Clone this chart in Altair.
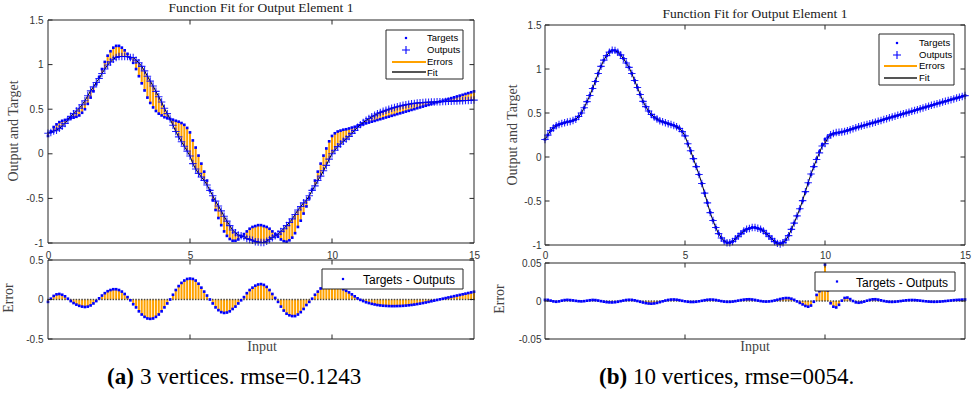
import altair as alt
import pandas as pd

# ---------------- data ----------------
INPUT = [round(0.1 * i, 1) for i in range(151)]

TARGETS = [
    0.20, 0.25, 0.30, 0.33, 0.355, 0.37, 0.38, 0.39, 0.40, 0.405,
    0.415, 0.43, 0.46, 0.50, 0.56, 0.63, 0.70, 0.78, 0.86, 0.95,
    1.03, 1.10, 1.15, 1.19, 1.21, 1.21, 1.19, 1.16, 1.12, 1.07,
    1.02, 0.95, 0.87, 0.79, 0.71, 0.63, 0.57, 0.52, 0.48, 0.45,
    0.43, 0.41, 0.40, 0.39, 0.38, 0.37, 0.36, 0.345, 0.325, 0.29,
    0.24, 0.15, 0.07, -0.02, -0.11, -0.20, -0.30, -0.41, -0.52, -0.63,
    -0.72, -0.80, -0.87, -0.92, -0.955, -0.975, -0.975, -0.96, -0.93, -0.90,
    -0.87, -0.84, -0.82, -0.81, -0.80, -0.80, -0.81, -0.82, -0.84, -0.87,
    -0.90, -0.93, -0.96, -0.98, -0.985, -0.97, -0.94, -0.89, -0.82, -0.75,
    -0.67, -0.59, -0.50, -0.40, -0.30, -0.20, -0.11, -0.02, 0.06, 0.14,
    0.20, 0.23, 0.25, 0.26, 0.27, 0.275, 0.284, 0.294, 0.303, 0.313,
    0.322, 0.331, 0.341, 0.350, 0.360, 0.369, 0.379, 0.388, 0.397, 0.407,
    0.416, 0.426, 0.435, 0.445, 0.454, 0.463, 0.473, 0.482, 0.492, 0.501,
    0.511, 0.520, 0.529, 0.539, 0.548, 0.558, 0.567, 0.577, 0.586, 0.595,
    0.605, 0.614, 0.624, 0.633, 0.643, 0.652, 0.661, 0.671, 0.680, 0.690,
    0.700,
]

# Targets - Outputs, 3 vertices
ERRORS_A = [
    -0.03, 0.01, 0.045, 0.065, 0.07, 0.06, 0.04, 0.01, -0.02, -0.045,
    -0.065, -0.08, -0.09, -0.095, -0.09, -0.075, -0.05, -0.02, 0.015, 0.05,
    0.08, 0.105, 0.12, 0.13, 0.13, 0.12, 0.10, 0.07, 0.03, -0.01,
    -0.06, -0.10, -0.15, -0.19, -0.22, -0.24, -0.245, -0.24, -0.22, -0.19,
    -0.15, -0.10, -0.05, 0.00, 0.06, 0.12, 0.17, 0.21, 0.24, 0.26,
    0.265, 0.26, 0.24, 0.20, 0.15, 0.10, 0.05, 0.00, -0.05, -0.10,
    -0.135, -0.16, -0.17, -0.165, -0.15, -0.12, -0.09, -0.05, -0.01, 0.03,
    0.08, 0.12, 0.15, 0.175, 0.19, 0.195, 0.185, 0.16, 0.12, 0.07,
    0.02, -0.03, -0.09, -0.14, -0.18, -0.20, -0.21, -0.21, -0.19, -0.16,
    -0.12, -0.07, -0.03, 0.01, 0.06, 0.10, 0.14, 0.17, 0.19, 0.20,
    0.20, 0.19, 0.17, 0.15, 0.13, 0.11, 0.09, 0.065, 0.04, 0.015,
    -0.005, -0.02, -0.035, -0.045, -0.055, -0.063, -0.07, -0.075, -0.079, -0.081,
    -0.083, -0.084, -0.084, -0.083, -0.082, -0.080, -0.077, -0.073, -0.069, -0.064,
    -0.058, -0.052, -0.045, -0.038, -0.030, -0.022, -0.014, -0.006, 0.002, 0.010,
    0.018, 0.026, 0.034, 0.042, 0.050, 0.058, 0.066, 0.074, 0.082, 0.090,
    0.098,
]

# Targets - Outputs, 10 vertices
ERRORS_B = [
    0.0015, 0.0015, 0.0005, -0.0005, -0.0010, -0.0005, 0.0005, 0.0012, 0.0015, 0.0012,
    0.0008, 0.0002, -0.0003, -0.0005, -0.0002, 0.0004, 0.0010, 0.0014, 0.0012, 0.0006,
    -0.0002, -0.0009, -0.0015, -0.0018, -0.0019, -0.0016, -0.0010, -0.0002, 0.0006, 0.0013,
    0.0016, 0.0015, 0.0009, 0.0000, -0.0010, -0.0020, -0.0028, -0.0033, -0.0035, -0.0032,
    -0.0025, -0.0015, -0.0004, 0.0006, 0.0014, 0.0019, 0.0020, 0.0017, 0.0011, 0.0003,
    -0.0004, -0.0010, -0.0013, -0.0013, -0.0010, -0.0004, 0.0003, 0.0010, 0.0016, 0.0019,
    0.0018, 0.0013, 0.0006, -0.0002, -0.0008, -0.0011, -0.0011, -0.0008, -0.0002, 0.0005,
    0.0012, 0.0018, 0.0022, 0.0023, 0.0020, 0.0014, 0.0006, -0.0001, -0.0006, -0.0008,
    -0.0006, -0.0001, 0.0007, 0.0016, 0.0026, 0.0034, 0.0039, 0.0038, 0.0030, 0.0015,
    -0.0005, -0.0025, -0.0045, -0.0065, -0.0075, -0.0060, -0.0010, 0.0080, 0.0130, 0.0150,
    0.0480, 0.0140, -0.0030, -0.0075, -0.0085, -0.0050, 0.0005, 0.0040, 0.0045, 0.0025,
    0.0000, -0.0018, -0.0023, -0.0018, -0.0008, 0.0004, 0.0015, 0.0022, 0.0023, 0.0018,
    0.0009, 0.0000, -0.0007, -0.0011, -0.0012, -0.0010, -0.0006, -0.0001, 0.0004, 0.0009,
    0.0012, 0.0013, 0.0012, 0.0009, 0.0005, 0.0000, -0.0004, -0.0008, -0.0010, -0.0011,
    -0.0010, -0.0008, -0.0005, -0.0001, 0.0003, 0.0007, 0.0011, 0.0014, 0.0016, 0.0018,
    0.0020,
]

TOP_Y_TICKS = [-1, -0.5, 0, 0.5, 1, 1.5]
ERR_A_Y_TICKS = [-0.5, 0, 0.5]
ERR_B_Y_TICKS = [-0.05, 0, 0.05]
X_TICKS = [0, 5, 10, 15]
X_INNER_TICKS = [5, 10]

PLOT_TITLE = "Function Fit for Output Element 1"
Y_TITLE_TOP = "Output and Target"
Y_TITLE_ERR = "Error"
X_TITLE = "Input"
LEGEND_TOP = ["Targets", "Outputs", "Errors", "Fit"]
LEGEND_ERR = "Targets - Outputs"
CAPTION_TAGS = ["(a)", "(b)"]
CAPTION_TEXTS = ["3 vertices. rmse=0.1243", "10 vertices, rmse=0054."]

# ---------------- styles / layout ----------------
BLUE = "#0000ff"
ORANGE = "#ffa200"
FRAME = "#262626"
LABEL = "#333333"
SANS = "Liberation Sans"
SERIF = "Liberation Serif"
PLUS = "M-1,0L1,0M0,-1L0,1"
TICK_LEN = 4.5

PANELS = {
    "a_top": dict(px=(48, 474), py=(243, 20), dom=(-1, 1.5), yt=TOP_Y_TICKS, lp=5, xlp=0),
    "a_err": dict(px=(48, 474), py=(339, 260), dom=(-0.5, 0.5), yt=ERR_A_Y_TICKS, lp=5, xlp=0),
    "b_top": dict(px=(545, 965), py=(245, 25), dom=(-1, 1.5), yt=TOP_Y_TICKS, lp=4, xlp=0),
    "b_err": dict(px=(545, 965), py=(339, 263), dom=(-0.05, 0.05), yt=ERR_B_Y_TICKS, lp=4, xlp=3),
}

df = pd.DataFrame({"x": INPUT, "t": TARGETS, "ea": ERRORS_A, "eb": ERRORS_B})
df["oa"] = df["t"] - df["ea"]
df["ob"] = df["t"] - df["eb"]
df["zero"] = 0.0


def sx(p):
    return alt.Scale(domain=[0, 15], range=list(p["px"]), nice=False, zero=False)


def sy(p):
    return alt.Scale(domain=list(p["dom"]), range=list(p["py"]), nice=False, zero=False)


def X(field, p, axis=None):
    return alt.X(field, type="quantitative", scale=sx(p), axis=axis)


def Y(field, p, axis=None):
    return alt.Y(field, type="quantitative", scale=sy(p), axis=axis)


def frame_layer(p, xaxis):
    d = pd.DataFrame({"x0": [0], "x1": [15], "y0": [p["dom"][0]], "y1": [p["dom"][1]]})
    yaxis = alt.Axis(
        orient="left", offset=-p["px"][0], values=p["yt"],
        labelExpr="toString(datum.value)", domain=False, ticks=False, tickSize=0,
        grid=False, labelPadding=p["lp"], labelFont=SANS, labelFontSize=10,
        labelColor=LABEL, title=None, labelOverlap=False, labelFlush=False,
    )
    return alt.Chart(d).mark_rect(fillOpacity=0, stroke=FRAME, strokeWidth=1).encode(
        x=X("x0", p, xaxis), x2="x1:Q", y=Y("y0", p, yaxis), y2="y1:Q"
    )


def ticks_layer(p):
    x0, x1 = p["px"]
    yb, yt = p["py"]
    d0, d1 = p["dom"]
    dx = TICK_LEN * 15 / (x1 - x0)
    dy = TICK_LEN * (d1 - d0) / (yb - yt)
    rows = []
    for v in p["yt"]:
        rows.append({"a": 0, "b": dx, "c": v, "d": v})
        rows.append({"a": 15, "b": 15 - dx, "c": v, "d": v})
    for v in X_INNER_TICKS:
        rows.append({"a": v, "b": v, "c": d0, "d": d0 + dy})
        rows.append({"a": v, "b": v, "c": d1, "d": d1 - dy})
    return alt.Chart(pd.DataFrame(rows)).mark_rule(color=FRAME, strokeWidth=1).encode(
        x=X("a", p), x2="b:Q", y=Y("c", p), y2="d:Q"
    )


def top_layers(p, out, err_w):
    base = alt.Chart(df)
    return [
        base.mark_rule(color=ORANGE, strokeWidth=err_w).encode(x=X("x", p), y=Y("t", p), y2=f"{out}:Q"),
        base.mark_square(size=7, color=BLUE, opacity=1).encode(x=X("x", p), y=Y("t", p)),
        base.mark_line(color="#000000", strokeWidth=1).encode(x=X("x", p), y=Y(out, p)),
        base.mark_point(shape=PLUS, size=56, color=BLUE, filled=False, strokeWidth=1.1, opacity=0.85).encode(
            x=X("x", p), y=Y(out, p)
        ),
    ]


def err_layers(p, err):
    base = alt.Chart(df)
    return [
        base.mark_rule(color=ORANGE, strokeWidth=2).encode(x=X("x", p), y=Y("zero", p), y2=f"{err}:Q"),
        base.mark_square(size=2, color="#444444", opacity=1).encode(x=X("x", p), y=Y("zero", p)),
        base.mark_square(size=7, color=BLUE, opacity=1).encode(x=X("x", p), y=Y(err, p)),
    ]


def xaxis_top(p):
    return alt.Axis(
        orient="top", offset=-p["py"][1], values=X_TICKS, labelExpr="toString(datum.value)",
        domain=False, ticks=False, tickSize=0, grid=False, labelPadding=p["xlp"],
        labelFont=SANS, labelFontSize=10, labelColor=LABEL, title=None,
        labelOverlap=False, labelFlush=False,
    )


layers = []
# panel (a)
pa, pe = PANELS["a_top"], PANELS["a_err"]
layers += top_layers(pa, "oa", 2)
layers += [ticks_layer(pa), frame_layer(pa, None)]
layers += err_layers(pe, "ea")
layers += [ticks_layer(pe), frame_layer(pe, xaxis_top(pe))]
# panel (b)
pb, pf = PANELS["b_top"], PANELS["b_err"]
layers += top_layers(pb, "ob", 2)
layers += [ticks_layer(pb), frame_layer(pb, None)]
layers += err_layers(pf, "eb")
layers += [ticks_layer(pf), frame_layer(pf, xaxis_top(pf))]


# ---------------- pixel-placed annotations ----------------
def text_layer(rows, font, size, weight="normal", align="center", baseline="middle", angle=0, color="#000000"):
    d = pd.DataFrame(rows, columns=["px", "py", "txt"])
    return alt.Chart(d).mark_text(
        font=font, fontSize=size, fontWeight=weight, align=align, baseline=baseline,
        angle=angle, color=color,
    ).encode(
        x=alt.X("px:Q", scale=None), y=alt.Y("py:Q", scale=None), text="txt:N"
    )


def box_layer(rows):
    d = pd.DataFrame(rows, columns=["x0", "x1", "y0", "y1"])
    return alt.Chart(d).mark_rect(fill="white", stroke=FRAME, strokeWidth=1).encode(
        x=alt.X("x0:Q", scale=None), x2="x1:Q", y=alt.Y("y0:Q", scale=None), y2="y1:Q"
    )


def sym_layer(rows, **kw):
    d = pd.DataFrame(rows, columns=["px", "py"])
    return alt.Chart(d).mark_point(**kw).encode(x=alt.X("px:Q", scale=None), y=alt.Y("py:Q", scale=None))


def line_layer(rows, color, width):
    d = pd.DataFrame(rows, columns=["x0", "x1", "y0"])
    return alt.Chart(d).mark_rule(color=color, strokeWidth=width).encode(
        x=alt.X("x0:Q", scale=None), x2="x1:Q", y=alt.Y("y0:Q", scale=None)
    )


# legend boxes
layers.append(box_layer([(386, 463, 30, 79), (879, 954, 34, 85), (322, 463, 269, 289), (815, 955, 272, 291)]))
# top legend symbols
layers.append(sym_layer([(406, 38), (897, 43)], shape="square", size=5, filled=True, color=BLUE, opacity=1))
layers.append(sym_layer([(406, 50), (897, 55)], shape=PLUS, size=64, filled=False, color=BLUE, strokeWidth=1.1, opacity=1))
layers.append(line_layer([(392, 426, 62), (884, 917, 66)], ORANGE, 2))
layers.append(line_layer([(392, 426, 72), (884, 917, 78)], "#555555", 2))
layers.append(text_layer(
    [(427, 38, LEGEND_TOP[0]), (427, 50, LEGEND_TOP[1]), (427, 62, LEGEND_TOP[2]), (427, 73, LEGEND_TOP[3]),
     (919, 43, LEGEND_TOP[0]), (919, 55, LEGEND_TOP[1]), (919, 66, LEGEND_TOP[2]), (919, 78, LEGEND_TOP[3])],
    SANS, 9.5, align="left"))
# error legend
layers.append(sym_layer([(343, 279), (837, 281.5)], shape="square", size=5, filled=True, color=BLUE, opacity=1))
layers.append(text_layer([(363, 280, LEGEND_ERR), (856, 282.5, LEGEND_ERR)], SANS, 12, align="left"))

# titles and axis titles
layers.append(text_layer([(261, 8, PLOT_TITLE), (755, 14, PLOT_TITLE)], SERIF, 13.5, color="#1a1a1a"))
layers.append(text_layer([(262, 347, X_TITLE), (755, 347, X_TITLE)], SERIF, 14, color="#444444"))
layers.append(text_layer([(14, 131, Y_TITLE_TOP), (513, 135, Y_TITLE_TOP),
                          (9, 298, Y_TITLE_ERR), (500, 299, Y_TITLE_ERR)],
                         SERIF, 14, angle=270, color="#444444"))
# captions
layers.append(text_layer([(107, 384, CAPTION_TAGS[0]), (599, 384, CAPTION_TAGS[1])], SERIF, 23,
                         weight="bold", align="left", baseline="alphabetic"))
layers.append(text_layer([(140, 384, CAPTION_TEXTS[0]), (633, 384, CAPTION_TEXTS[1])], SERIF, 23,
                         align="left", baseline="alphabetic"))

chart = alt.layer(*layers).resolve_scale(x="independent", y="independent").properties(
    width=978, height=400, autosize=alt.AutoSizeParams(type="none"), padding=0,
    background="white",
).configure_view(stroke=None)

chart.save("out.html", embed_options={"renderer": "svg", "actions": False})
